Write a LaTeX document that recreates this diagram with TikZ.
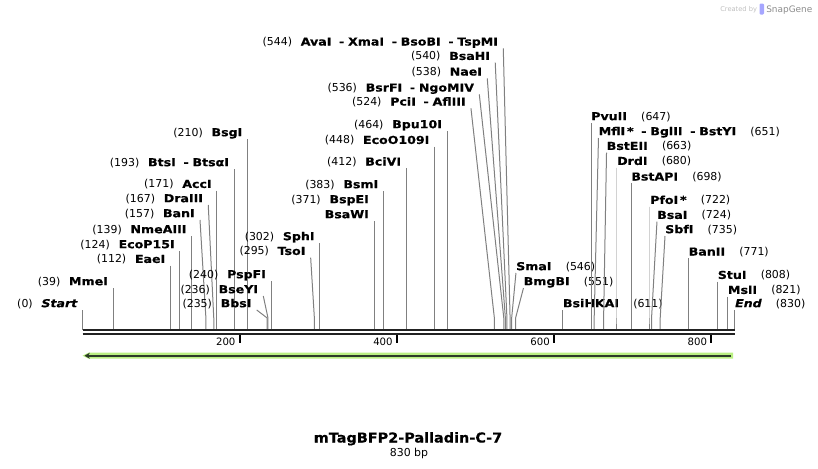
\documentclass[tikz,border=0pt]{standalone}
\usepackage{fontspec}
\setmainfont{DejaVu Sans}
\newfontfamily\namefont[FakeStretch=1.15,FakeBold=0.6]{DejaVu Sans}
\newfontfamily\titlefont[FakeStretch=1.06,FakeBold=0.6]{DejaVu Sans}
\usetikzlibrary{arrows.meta}
\definecolor{cutgray}{RGB}{128,128,128}
\definecolor{featgreen}{RGB}{186,240,130}
\definecolor{featdark}{RGB}{45,60,40}
\definecolor{bbone}{RGB}{34,34,34}
\newcommand{\bpx}[1]{82.5+0.786*(#1)}
\newcommand{\dsep}{\hspace{0.7em}-\hspace{0.35em}}
\newcommand{\lblfont}{\fontsize{8.2}{11}\selectfont}
\newcommand{\nm}[1]{{\namefont\bfseries #1}}

\begin{document}
\begin{tikzpicture}[x=0.75pt,y=-0.75pt,
  lblL/.style={anchor=south east,inner xsep=3.75pt,inner ysep=1.9pt,text depth=0pt,font=\lblfont},
  lblR/.style={anchor=south west,inner xsep=0pt,inner ysep=1.9pt,text depth=0pt,font=\lblfont},
  cut/.style={draw=cutgray,line width=0.75pt}]
\useasboundingbox (0,0) rectangle (818,468);
% sites left of the labels' line ends
\foreach \pos/\dx/\yt/\name in {0/0/310/{\itshape Start},39/0/288/MmeI,
  112/0/265.7/EaeI,124/0/251/EcoP15I,139/0/236/NmeAIII,157/-5.9/220/BanI,
  167/-5.5/205/DraIII,171/0/190.7/AccI,193/0/169/{BtsI\dsep BtsαI},
  210/0/139/BsgI,235/-10.5/310/BbsI,236/-4.7/296/BseYI,240/0/281/PspFI,
  295/-3.7/257.7/TsoI,302/0/243/SphI,383/0/191/BsmI,412/0/168.3/BciVI,
  448/0/146.7/EcoO109I,464/0/131/Bpu10I,524/-23.4/108.3/{PciI\dsep AflIII},
  536/-24.5/94.3/{BsrFI\dsep NgoMIV},538/-18.1/78.3/NaeI,540/-11.7/62.7/BsaHI,
  544/-6.8/48.3/{AvaI\dsep XmaI\dsep BsoBI\dsep TspMI}}{
  \coordinate (s\pos) at ({\bpx{\pos}},330);
  \node[lblL] (L\pos) at ({\bpx{\pos}+\dx},\yt) {(\pos)\hspace{0.8em}\nm{\name}};
  \draw[cut] (L\pos.south east) -- ({\bpx{\pos}},318) -- (s\pos);
}
\coordinate (s371) at ({\bpx{371}},330);
\node[lblL] (L371) at ({\bpx{371}},221) {\nm{BsaWI}};
\node[lblL] (L371b) at ({\bpx{371}},206) {(371)\hspace{0.8em}\nm{BspEI}};
\draw[cut] (L371.south east) -- (s371);
% sites right of the labels' line ends
\foreach \pos/\dx/\yt/\name in {546/4.3/273/SmaI,551/7.9/288/BmgBI,
  611/0/310/BsiHKAI,647/0/123/PvuII,651/4.3/138/{MflI\,*\dsep BglII\dsep BstYI},
  663/2.9/152.7/BstEII,680/0/167.7/DrdI,698/0/183.3/BstAPI,722/0/206.7/{PfoI\,*},
  724/5.4/221.7/BsaI,735/4.8/236/SbfI,771/0/258.3/BanII,808/0/281.7/StuI,
  821/0/296.7/MslI,830/0/310/{\itshape End}}{
  \coordinate (s\pos) at ({\bpx{\pos}},330);
  \node[lblR] (R\pos) at ({\bpx{\pos}+\dx},\yt) {\nm{\name}\hspace{1.3em}(\pos)};
  \draw[cut] (R\pos.south west) -- ({\bpx{\pos}},318) -- (s\pos);
}
% backbone and ruler
\coordinate (bbL) at ({\bpx{0}},330);
\coordinate (bbR) at ({\bpx{830}},330);
\draw[bbone,line width=1.7pt] (bbL) -- (bbR);
\draw[bbone,line width=1.7pt] ([yshift=-3pt]bbL) -- ([yshift=-3pt]bbR);
\foreach \t in {200,400,600,800}{
  \draw[black,line width=1.4pt] ({\bpx{\t}},335) -- ({\bpx{\t}},343);
  \node[anchor=base east,inner sep=0pt,font=\fontsize{7.6}{9}\selectfont] (t\t) at ({\bpx{\t}-4},345.5) {\t};
}
% feature arrow
\coordinate (fL) at ({\bpx{0}},355.7);
\coordinate (fR) at (733,355.7);
\fill[featgreen] (733,352.7) -- (88.5,352.7) -- (fL) -- (88.5,358.7) -- (733,358.7) -- cycle;
\draw[featdark,line width=1.5pt,-{Stealth[length=4pt,width=4.5pt]}] (731,355.7) -- (84.5,355.7);
% title
\node[anchor=base,inner sep=0pt,font=\fontsize{10.2}{12}\selectfont\titlefont\bfseries] (title) at (408,442.5) {mTagBFP2-Palladin-C-7};
\node[anchor=base,inner sep=0pt,font=\fontsize{8.2}{10}\selectfont] (size) at (409,456) {830 bp};
% credit
\node[anchor=base west,inner sep=0pt,font=\fontsize{5}{6}\selectfont,text=black!25] (made) at (720,11) {Created by};
\fill[blue!35,rounded corners=0.8pt] (759.5,3.5) rectangle (764,14.5);
\node[anchor=base west,inner sep=0pt,font=\fontsize{6.7}{8}\selectfont,text=black!45] (brand) at (766,12) {SnapGene};
\end{tikzpicture}
\end{document}
